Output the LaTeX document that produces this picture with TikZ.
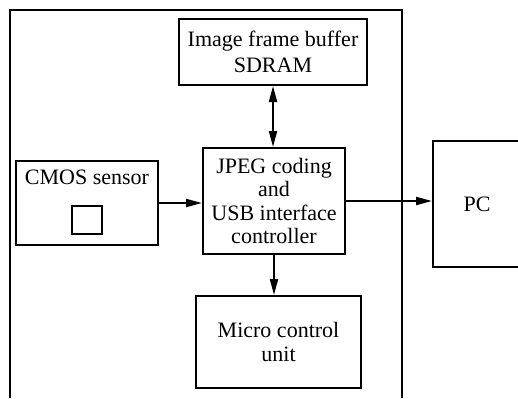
\documentclass[tikz,border=0pt]{standalone}
\usepackage{fontspec}
\setmainfont{Liberation Serif}
\usetikzlibrary{arrows.meta}

\begin{document}
\begin{tikzpicture}[x=0.5pt,y=-0.5pt,line width=1pt,
	font=\fontsize{11}{11.7}\selectfont,
	>={Triangle[length=8pt,width=4pt]},
	block/.style={draw,align=center,inner sep=0pt}]
	\useasboundingbox (0,0) rectangle (518,398);
	% camera board, open at the bottom
	\draw (10,398) -- (10,10) -- (402,10) -- (402,398);
	\node[block,minimum width=94pt,minimum height=33pt] (sdram) at (273,52) {\raisebox{-3pt}{\shortstack{Image frame buffer\\SDRAM}}};
	\node[block,minimum width=71pt,minimum height=53pt] (jpeg) at (274,201) {JPEG coding\\and\\USB interface\\controller};
	\node[block,minimum width=71pt,minimum height=42pt] (cmos) at (87,203) {};
	\node (cmoslabel) at (87,177) {CMOS sensor};
	\node[draw,minimum width=15pt,minimum height=14pt,inner sep=0pt] (pixel) at (87,220) {};
	\node[block,minimum width=82.5pt,minimum height=46pt] (mcu) at (278.5,342) {Micro control\\unit};
	\node[block,minimum width=44pt,minimum height=63pt] (pc) at (477,204) {PC};
	\draw[<->] (sdram.south) -- (sdram.south |- jpeg.north);
	\draw[->] (cmos.east) -- (cmos.east -| jpeg.west);
	\draw[->] (jpeg.east) -- (jpeg.east -| pc.west);
	\draw[->] (jpeg.south) -- (jpeg.south |- mcu.north);
\end{tikzpicture}
\end{document}
